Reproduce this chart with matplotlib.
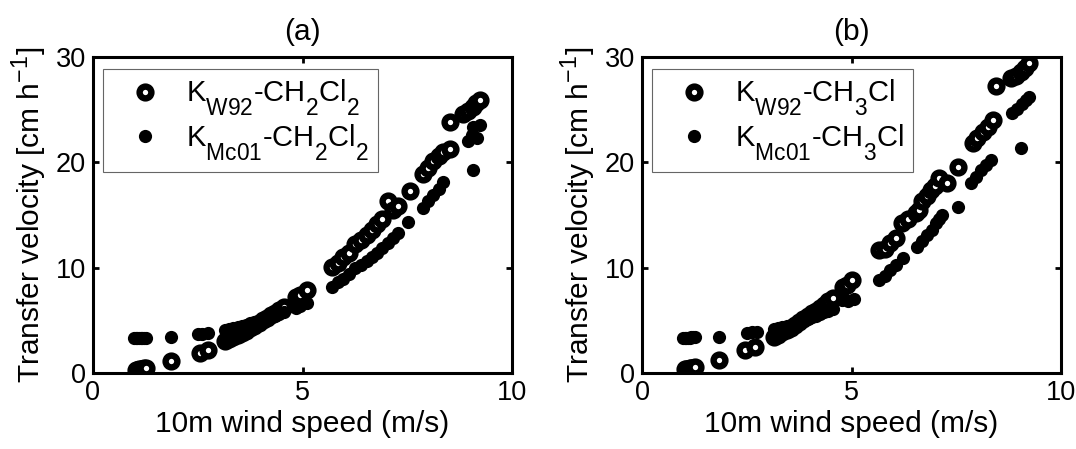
#!/usr/bin/env python
"""
Transfer velocity vs 10m wind speed, W92 and Mc01 parameterisations.
"""

import matplotlib
matplotlib.use('Agg')
import matplotlib.pyplot as plt
import matplotlib._mathtext as mt

plt.rcParams['font.family'] = ['Liberation Sans', 'DejaVu Sans']
plt.rcParams['mathtext.fontset'] = 'custom'
plt.rcParams['mathtext.rm'] = 'Liberation Sans'
plt.rcParams['mathtext.default'] = 'regular'
mt.FontConstantsBase.sub1 = 0.9  # drop subscripts lower, like the MATLAB tex renderer
mt.SHRINK_FACTOR = 0.78  # and keep them a bit bigger

# ---- panel (a): CH2Cl2 ----
a_w92_u = [1.02, 1.06, 1.10, 1.14, 1.18, 1.22, 1.26, 1.85, 2.55, 2.75,
           3.15, 3.25, 3.35, 3.45, 3.55, 3.65, 3.75, 3.85, 3.95, 4.05, 4.15, 4.25, 4.35, 4.45, 4.55,
           4.85, 4.95, 5.10, 5.70, 5.85, 5.97, 6.10, 6.25, 6.40, 6.53, 6.65, 6.77, 6.90,
           7.04, 7.15, 7.28, 7.57, 7.88, 8.00, 8.12, 8.25, 8.36, 8.52, 8.52,
           8.83, 8.95, 9.07, 9.15, 9.24]
a_w92_k = [0.30, 0.30, 0.35, 0.40, 0.40, 0.45, 0.50, 1.1, 1.9, 2.2,
           3.0, 3.2, 3.4, 3.6, 3.8, 4.0, 4.3, 4.5, 4.7, 5.0, 5.2, 5.5, 5.7, 6.0, 6.3,
           7.2, 7.4, 7.9, 10.1, 10.4, 11.0, 11.4, 12.2, 12.6, 13.1, 13.6, 14.1, 14.6,
           16.3, 15.5, 15.9, 17.3, 18.9, 19.5, 20.1, 20.6, 21.0, 21.3, 23.8,
           24.6, 24.9, 25.3, 25.6, 25.9]

a_mc01_u = [0.98, 1.02, 1.06, 1.10, 1.14, 1.18, 1.22, 1.26, 1.85, 2.50, 2.60, 2.75,
            3.15, 3.25, 3.35, 3.45, 3.55, 3.65, 3.75, 3.85, 3.95, 4.05, 4.15, 4.25, 4.35, 4.45, 4.55,
            4.85, 4.95, 5.10, 5.70, 5.85, 5.97, 6.10, 6.25, 6.40, 6.53, 6.65, 6.77, 6.90,
            7.04, 7.15, 7.28, 7.52, 7.88, 8.00, 8.12, 8.25, 8.36,
            8.95, 9.05, 9.07, 9.16, 9.24, 9.07]
a_mc01_k = [3.30, 3.30, 3.30, 3.30, 3.35, 3.35, 3.35, 3.35, 3.4, 3.7, 3.75, 3.8,
            4.1, 4.2, 4.3, 4.35, 4.45, 4.55, 4.7, 4.8, 4.95, 5.05, 5.2, 5.3, 5.45, 5.6, 5.75,
            6.2, 6.4, 6.6, 8.2, 8.6, 8.9, 9.4, 10.0, 10.3, 10.6, 11.0, 11.4, 11.9,
            12.3, 12.8, 13.3, 14.3, 15.7, 16.3, 16.9, 17.5, 18.1,
            22.0, 22.6, 23.4, 22.3, 23.5, 19.3]

# ---- panel (b): CH3Cl ----
b_w92_u = [1.02, 1.06, 1.10, 1.14, 1.18, 1.22, 1.26, 1.84, 2.47, 2.70,
           3.15, 3.25, 3.35, 3.45, 3.55, 3.65, 3.75, 3.85, 3.95, 4.05, 4.15, 4.25, 4.35, 4.45, 4.55,
           4.80, 4.90, 5.02, 5.65, 5.80, 5.93, 6.07, 6.21, 6.35, 6.53, 6.60, 6.69, 6.80,
           6.89, 7.00, 7.09, 7.29, 7.53, 7.89, 8.00, 8.13, 8.25, 8.37, 8.46,
           8.80, 8.92, 9.04, 9.15, 9.24]
b_w92_k = [0.35, 0.35, 0.40, 0.45, 0.45, 0.50, 0.55, 1.2, 2.2, 2.5,
           3.4, 3.6, 3.9, 4.1, 4.3, 4.6, 4.8, 5.1, 5.4, 5.7, 5.9, 6.2, 6.5, 6.8, 7.1,
           8.2, 8.4, 8.8, 11.7, 11.8, 12.3, 12.8, 14.2, 14.6, 15.2, 15.5, 16.3, 16.8,
           17.4, 17.8, 18.5, 18.0, 19.6, 21.8, 22.3, 22.9, 23.4, 24.0, 27.2,
           28.0, 28.2, 28.6, 29.0, 29.4]

b_mc01_u = [0.98, 1.02, 1.06, 1.10, 1.14, 1.18, 1.22, 1.26, 1.84, 2.51, 2.62, 2.75,
            3.15, 3.25, 3.35, 3.45, 3.55, 3.65, 3.75, 3.85, 3.95, 4.05, 4.15, 4.25, 4.35, 4.45, 4.55,
            4.78, 4.92, 5.05, 5.65, 5.80, 5.93, 6.07, 6.24, 6.57, 6.69, 6.81, 6.92,
            7.01, 7.10, 7.17, 7.53, 7.85, 7.97, 8.09, 8.21, 8.33,
            8.84, 8.96, 9.08, 9.16, 9.24, 9.04]
b_mc01_k = [3.35, 3.35, 3.35, 3.35, 3.35, 3.40, 3.40, 3.40, 3.45, 3.8, 3.85, 3.9,
            4.2, 4.3, 4.4, 4.5, 4.6, 4.75, 4.85, 5.0, 5.15, 5.3, 5.4, 5.6, 5.75, 5.9, 6.1,
            6.9, 6.8, 7.0, 8.8, 9.2, 9.8, 10.3, 10.9, 12.0, 12.5, 13.1, 13.6,
            14.2, 14.6, 15.0, 15.8, 18.0, 18.6, 19.3, 19.7, 20.2,
            24.7, 25.1, 25.5, 25.9, 26.2, 21.4]

panels = [
    ('(a)', a_w92_u, a_w92_k, a_mc01_u, a_mc01_k,
     ['K$_{W92}$-CH$_2$Cl$_2$', 'K$_{Mc01}$-CH$_2$Cl$_2$']),
    ('(b)', b_w92_u, b_w92_k, b_mc01_u, b_mc01_k,
     ['K$_{W92}$-CH$_3$Cl', 'K$_{Mc01}$-CH$_3$Cl']),
]

fig = plt.figure(figsize=(10.76, 4.49), dpi=100)
lefts = [93 / 1076, 642 / 1076]

for left, (title, u1, k1, u2, k2, labels) in zip(lefts, panels):
    ax = fig.add_axes([left, 1 - 373 / 449, 419 / 1076, 316 / 449])
    h1, = ax.plot(u1, k1, 'o', ms=8.5, mfc='white', mec='black', mew=4.6, ls='none')
    h2, = ax.plot(u2, k2, 'o', ms=9.5, mfc='black', mec='black', mew=0, ls='none')
    ax.set_xlim(0, 10)
    ax.set_ylim(0, 30)
    ax.set_xticks([0, 5, 10])
    ax.set_yticks([0, 10, 20, 30])
    ax.tick_params(direction='in', length=4, width=2, labelsize=19.5, pad=5,
                   top=True, right=True)
    for sp in ax.spines.values():
        sp.set_linewidth(2.2)
    ax.set_xlabel('10m wind speed (m/s)', fontsize=21.5, labelpad=3)
    ax.set_ylabel('Transfer velocity [cm h$^{-1}$]', fontsize=21.5, labelpad=5)
    ax.set_title(title, fontsize=21.5, pad=12)
    leg = ax.legend([h1, h2], labels, loc='upper left', bbox_to_anchor=(0.024, 0.962),
                    borderaxespad=0, fancybox=False, fontsize=21, handlelength=2.3,
                    handletextpad=0.25, labelspacing=0.15, borderpad=0.3)
    leg.get_frame().set_edgecolor('0.25')
    leg.get_frame().set_linewidth(0.8)

fig.savefig('out.png', dpi=100)
